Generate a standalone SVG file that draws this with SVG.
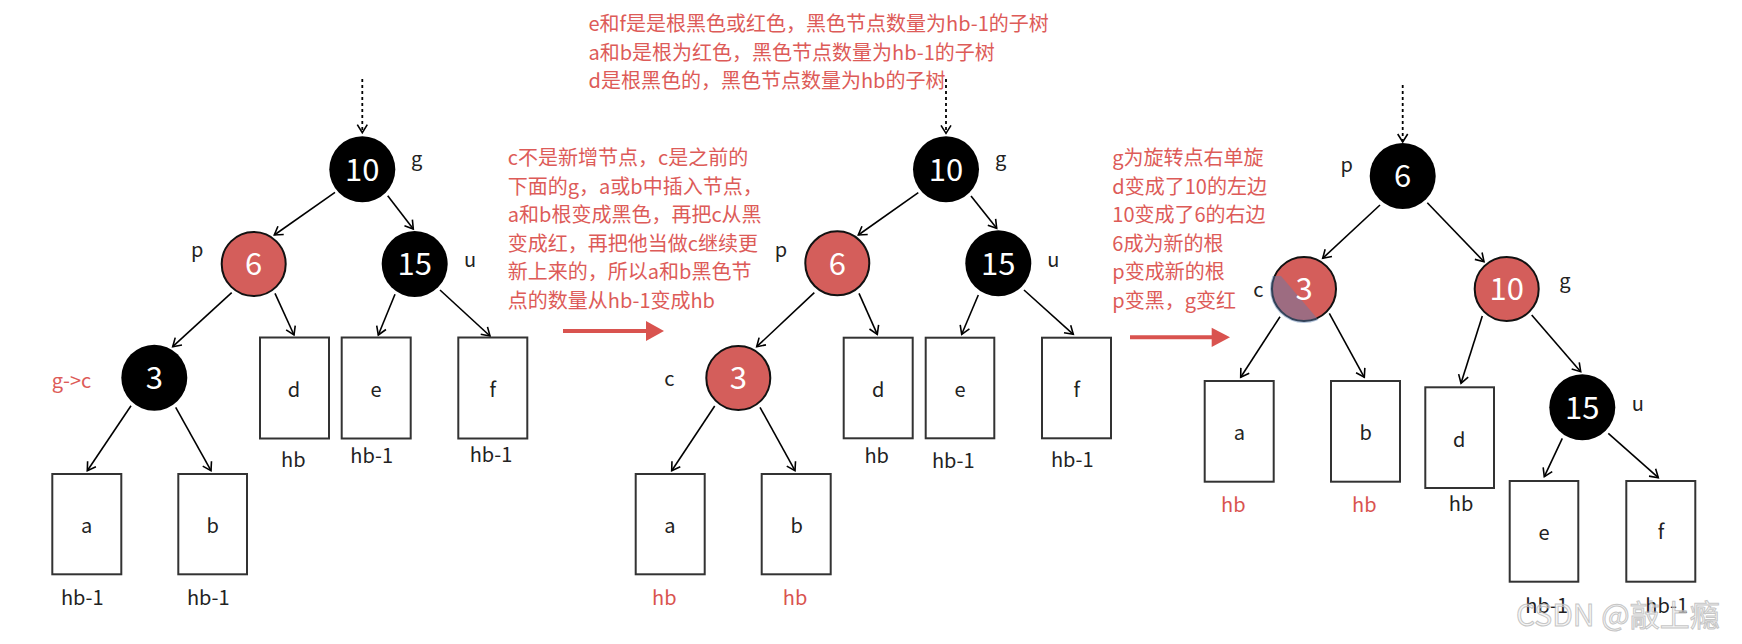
<svg xmlns="http://www.w3.org/2000/svg" width="1742" height="644" viewBox="0 0 1742 644">
<defs>
<style>
text{font-family:"Noto Sans CJK SC","Noto Sans",sans-serif;}
.blk{fill:#000;}
.red{fill:#d45e5b;stroke:#111;stroke-width:2;}
.num{fill:#fff;font-size:31px;text-anchor:middle;}
.lbl{fill:#222;font-size:20px;text-anchor:middle;}
.box{fill:#fff;stroke:#333;stroke-width:2;}
.sub{fill:#222;font-size:20px;text-anchor:middle;}
.rsub{fill:#d9534f;font-size:20px;text-anchor:middle;}
.note{fill:#dd5b58;font-size:20px;}
.edge{stroke:#000;stroke-width:1.6;fill:none;marker-end:url(#ah);}
.dot{stroke:#000;stroke-width:1.8;fill:none;stroke-dasharray:3 3;marker-end:url(#ah);}
.big{stroke:#d9534f;stroke-width:4;fill:none;}
.bighead{fill:#d9534f;}
</style>
<marker id="ah" viewBox="-10 -7 12 14" refX="0" refY="0" markerWidth="12" markerHeight="14" markerUnits="userSpaceOnUse" orient="auto">
<path d="M-8,-5 L0,0 L-8,5" fill="none" stroke="#000" stroke-width="1.6"/>
</marker>
<clipPath id="c3clip"><circle cx="1304" cy="289" r="34"/></clipPath>
</defs>
<rect width="1742" height="644" fill="#fff"/>

<g id="connectors">
<!-- left tree -->
<line class="dot" x1="362.3" y1="79" x2="362.3" y2="132.7"/>
<line class="edge" x1="335" y1="192.3" x2="274.3" y2="235"/>
<line class="edge" x1="387.7" y1="195.7" x2="413.3" y2="229"/>
<line class="edge" x1="231.7" y1="292.7" x2="172.7" y2="346.7"/>
<line class="edge" x1="275" y1="293.3" x2="294" y2="335"/>
<line class="edge" x1="395" y1="294.3" x2="378.3" y2="335"/>
<line class="edge" x1="440" y1="290" x2="490" y2="336"/>
<line class="edge" x1="131" y1="405.7" x2="87.3" y2="470.7"/>
<line class="edge" x1="175.7" y1="407.3" x2="211" y2="470.7"/>
<!-- middle tree -->
<line class="dot" x1="946" y1="79" x2="946" y2="133.3"/>
<line class="edge" x1="918.3" y1="192.7" x2="858.3" y2="235"/>
<line class="edge" x1="971" y1="196" x2="996.7" y2="228.3"/>
<line class="edge" x1="814.3" y1="292.7" x2="756.7" y2="346.7"/>
<line class="edge" x1="859" y1="293.3" x2="877.3" y2="334.3"/>
<line class="edge" x1="978.3" y1="295" x2="961.7" y2="334.3"/>
<line class="edge" x1="1024" y1="290" x2="1073.3" y2="334.3"/>
<line class="edge" x1="714.7" y1="406" x2="671.7" y2="470.7"/>
<line class="edge" x1="760" y1="407.3" x2="795" y2="470.7"/>
<!-- right tree -->
<line class="dot" x1="1402.7" y1="85" x2="1402.7" y2="142"/>
<line class="edge" x1="1380" y1="205" x2="1322.7" y2="258.3"/>
<line class="edge" x1="1427.3" y1="202.7" x2="1484" y2="261.7"/>
<line class="edge" x1="1280" y1="316.7" x2="1240.7" y2="377.3"/>
<line class="edge" x1="1329.3" y1="313.3" x2="1364.3" y2="377.3"/>
<line class="edge" x1="1482.3" y1="316" x2="1461" y2="383.3"/>
<line class="edge" x1="1531.7" y1="315" x2="1580.7" y2="371.7"/>
<line class="edge" x1="1562.3" y1="438.3" x2="1544.3" y2="476.7"/>
<line class="edge" x1="1608.3" y1="433.3" x2="1658.3" y2="477.7"/>
<!-- big red arrows -->
<line class="big" x1="563" y1="331" x2="648" y2="331"/>
<polygon class="bighead" points="646,321 664,331 646,341"/>
<line class="big" x1="1130" y1="337.3" x2="1214" y2="337.3"/>
<polygon class="bighead" points="1211.7,327.7 1230,337.3 1211.7,347"/>
</g>

<!-- left tree nodes -->
<g id="L-g"><circle class="blk" cx="362.3" cy="169.3" r="33"/><text class="num" x="362.3" y="180.5">10</text><text class="lbl" x="416.7" y="166">g</text></g>
<g id="L-p"><circle class="red" cx="253.7" cy="264" r="32"/><text class="num" x="253.7" y="275">6</text><text class="lbl" x="197.3" y="257">p</text></g>
<g id="L-u"><circle class="blk" cx="414.7" cy="264" r="33"/><text class="num" x="414.7" y="275">15</text><text class="lbl" x="470" y="266.7">u</text></g>
<g id="L-c"><circle class="blk" cx="154.3" cy="377.7" r="33"/><text class="num" x="154.3" y="389">3</text><text class="note" x="51.7" y="388">g-&gt;c</text></g>
<g id="L-a"><rect class="box" x="52.3" y="474" width="69" height="100.3"/><text class="sub" x="86.7" y="533">a</text><text class="sub" x="82.3" y="605">hb-1</text></g>
<g id="L-b"><rect class="box" x="178.3" y="474" width="68.7" height="100.3"/><text class="sub" x="212.7" y="533">b</text><text class="sub" x="208.3" y="605">hb-1</text></g>
<g id="L-d"><rect class="box" x="260" y="337.5" width="69" height="101"/><text class="sub" x="294" y="397">d</text><text class="sub" x="293.3" y="467">hb</text></g>
<g id="L-e"><rect class="box" x="341.7" y="337.5" width="69" height="101"/><text class="sub" x="376" y="397">e</text><text class="sub" x="371.7" y="463">hb-1</text></g>
<g id="L-f"><rect class="box" x="458.3" y="337.5" width="69" height="101"/><text class="sub" x="492.7" y="397">f</text><text class="sub" x="491" y="461.7">hb-1</text></g>

<!-- notes -->
<g id="note-top">
<text class="note" x="588.5" y="31">e和f是是根黑色或红色，黑色节点数量为hb-1的子树</text>
<text class="note" x="588.5" y="59.6">a和b是根为红色，黑色节点数量为hb-1的子树</text>
<text class="note" x="588.5" y="88.2">d是根黑色的，黑色节点数量为hb的子树</text>
</g>
<g id="note-mid">
<text class="note" x="507.8" y="165">c不是新增节点，c是之前的</text>
<text class="note" x="507.8" y="193.6">下面的g，a或b中插入节点，</text>
<text class="note" x="507.8" y="222.2">a和b根变成黑色，再把c从黑</text>
<text class="note" x="507.8" y="250.8">变成红，再把他当做c继续更</text>
<text class="note" x="507.8" y="279.4">新上来的，所以a和b黑色节</text>
<text class="note" x="507.8" y="308">点的数量从hb-1变成hb</text>
</g>
<g id="note-right">
<text class="note" x="1112.3" y="165">g为旋转点右单旋</text>
<text class="note" x="1112.3" y="193.6">d变成了10的左边</text>
<text class="note" x="1112.3" y="222.2">10变成了6的右边</text>
<text class="note" x="1112.3" y="250.8">6成为新的根</text>
<text class="note" x="1112.3" y="279.4">p变成新的根</text>
<text class="note" x="1112.3" y="308">p变黑，g变红</text>
</g>

<!-- middle tree nodes -->
<g id="M-g"><circle class="blk" cx="946" cy="169.3" r="33"/><text class="num" x="946" y="180.5">10</text><text class="lbl" x="1000.7" y="166">g</text></g>
<g id="M-p"><circle class="red" cx="837.3" cy="263.3" r="32"/><text class="num" x="837.3" y="274.5">6</text><text class="lbl" x="781" y="257">p</text></g>
<g id="M-u"><circle class="blk" cx="998.3" cy="263.3" r="33"/><text class="num" x="998.3" y="274.5">15</text><text class="lbl" x="1053.3" y="266.7">u</text></g>
<g id="M-c"><circle class="red" cx="738.3" cy="378" r="32"/><text class="num" x="738.3" y="389">3</text><text class="lbl" x="669.3" y="386">c</text></g>
<g id="M-a"><rect class="box" x="635.7" y="474" width="69" height="100.3"/><text class="sub" x="670" y="533">a</text><text class="rsub" x="664.3" y="605">hb</text></g>
<g id="M-b"><rect class="box" x="761.7" y="474" width="69" height="100.3"/><text class="sub" x="796.7" y="533">b</text><text class="rsub" x="795" y="605">hb</text></g>
<g id="M-d"><rect class="box" x="843.7" y="337.7" width="69" height="100.6"/><text class="sub" x="878.3" y="397">d</text><text class="sub" x="876.7" y="463.3">hb</text></g>
<g id="M-e"><rect class="box" x="925.7" y="337.7" width="68.6" height="100.6"/><text class="sub" x="960" y="397">e</text><text class="sub" x="953.3" y="468.3">hb-1</text></g>
<g id="M-f"><rect class="box" x="1042" y="337.7" width="69" height="100.6"/><text class="sub" x="1076.7" y="397">f</text><text class="sub" x="1072.3" y="466.7">hb-1</text></g>

<!-- right tree nodes -->
<g id="R-p"><circle class="blk" cx="1402.7" cy="176" r="33"/><text class="num" x="1402.7" y="187">6</text><text class="lbl" x="1346.7" y="171.7">p</text></g>
<g id="R-c"><circle class="red" cx="1304" cy="289" r="32"/><polygon points="1268,276 1281,276 1322,324 1268,324" fill="#5a7fb0" opacity="0.45" clip-path="url(#c3clip)"/><text class="num" x="1304" y="300">3</text><text class="lbl" x="1258.3" y="296.7">c</text></g>
<g id="R-g"><circle class="red" cx="1506.7" cy="289" r="32"/><text class="num" x="1506.7" y="300">10</text><text class="lbl" x="1565" y="288">g</text></g>
<g id="R-u"><circle class="blk" cx="1582.3" cy="407.3" r="33"/><text class="num" x="1582.3" y="418.5">15</text><text class="lbl" x="1637.7" y="410.7">u</text></g>
<g id="R-a"><rect class="box" x="1204.7" y="381" width="69" height="100.7"/><text class="sub" x="1239.3" y="440">a</text><text class="rsub" x="1233.3" y="511.7">hb</text></g>
<g id="R-b"><rect class="box" x="1331" y="381" width="69" height="100.7"/><text class="sub" x="1365.7" y="440">b</text><text class="rsub" x="1364.3" y="511.7">hb</text></g>
<g id="R-d"><rect class="box" x="1425.3" y="387.3" width="68.7" height="100.7"/><text class="sub" x="1459.3" y="446.5">d</text><text class="sub" x="1461" y="511">hb</text></g>
<g id="R-e"><rect class="box" x="1509.7" y="481" width="68.6" height="100.7"/><text class="sub" x="1544" y="540">e</text><text class="sub" x="1546.7" y="613.3">hb-1</text></g>
<g id="R-f"><rect class="box" x="1626.3" y="481" width="69" height="100.7"/><text class="sub" x="1661" y="539">f</text><text class="sub" x="1666.7" y="613">hb-1</text></g>

<text x="1516" y="626" font-size="30" fill="#eeeeee" fill-opacity="0.55" stroke="#b8b8b8" stroke-width="1" stroke-opacity="0.8">CSDN @敲上瘾</text>
</svg>
